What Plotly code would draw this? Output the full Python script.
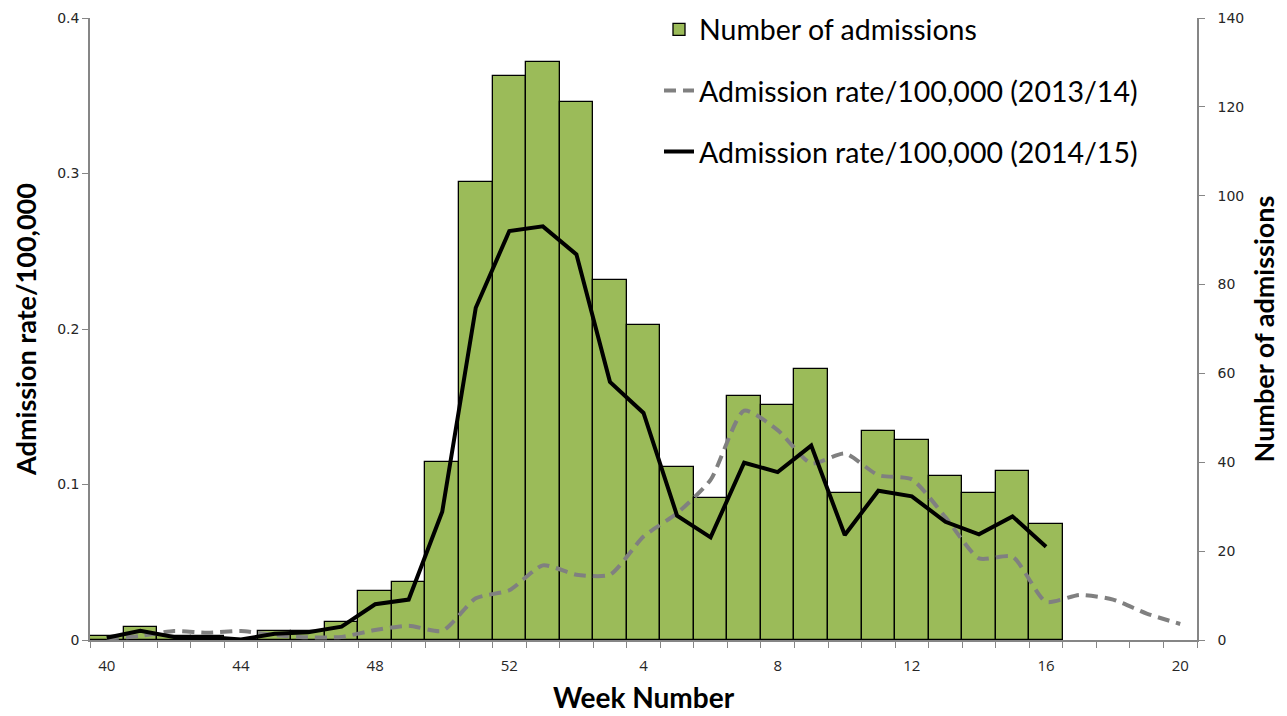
import plotly.graph_objects as go

weeks = [40, 41, 42, 43, 44, 45, 46, 47, 48, 49, 50, 51, 52,
         1, 2, 3, 4, 5, 6, 7, 8, 9, 10, 11, 12, 13, 14, 15, 16, 17, 18, 19, 20]

admissions = [1, 3, 1, 1, 0, 2, 2, 4, 11, 13, 40, 103, 127,
              130, 121, 81, 71, 39, 32, 55, 53, 61, 33, 47, 45, 37, 33, 38, 26,
              None, None, None, None]

rate_1314 = [0.001, 0.0026, 0.0058, 0.0047, 0.0058, 0.0032, 0.0017, 0.002, 0.0064, 0.0092, 0.0058, 0.0268, 0.032,
             0.048, 0.042, 0.042, 0.0665, 0.0815, 0.103, 0.1475, 0.135, 0.1136, 0.120, 0.106, 0.1033, 0.079,
             0.0525, 0.0536, 0.0246, 0.029, 0.026, 0.017, 0.0103]

rate_1415 = [0.0015, 0.006, 0.002, 0.002, 0.0003, 0.004, 0.005, 0.0086, 0.023, 0.026, 0.0825, 0.2137, 0.263,
             0.266, 0.248, 0.166, 0.146, 0.080, 0.066, 0.114, 0.108, 0.125, 0.0675, 0.096, 0.0924, 0.076,
             0.068, 0.0795, 0.060, None, None, None, None]

tick_labels = ["40", "44", "48", "52", "4", "8", "12", "16", "20"]

idx = list(range(len(weeks)))
tick_pos = [weeks.index(int(t)) if int(t) >= 40 else weeks.index(int(t), 13) for t in tick_labels]

fig = go.Figure()
fig.add_trace(go.Bar(
    x=idx, y=admissions, name="Number of admissions", yaxis="y",
    marker=dict(color="#9BBB59", line=dict(color="#000000", width=1.3)),
    width=1.0, legendgroup="a",
))
fig.add_trace(go.Scatter(
    x=idx, y=rate_1314, name="Admission rate/100,000 (2013/14)", yaxis="y2",
    mode="lines", line=dict(color="#808080", width=4, dash="12px,7px", shape="spline", smoothing=0.6),
    legendgroup="b",
))
fig.add_trace(go.Scatter(
    x=idx, y=rate_1415, name="Admission rate/100,000 (2014/15)", yaxis="y2",
    mode="lines", line=dict(color="#000000", width=4),
    legendgroup="c",
))

axis_col = "#868686"
tick_font = dict(family="DejaVu Sans", size=14, color="#262626")
title_font = dict(family="Lato", size=27, color="#000000")

fig.update_layout(
    width=1287, height=716,
    margin=dict(l=82, r=98, t=10, b=84, autoexpand=False),
    paper_bgcolor="white", plot_bgcolor="white",
    bargap=0,
    showlegend=True,
    legend=dict(x=0.514, y=1.022, xanchor="left", yanchor="top",
                font=dict(family="Lato", size=28.5, color="#000000"),
                bgcolor="rgba(0,0,0,0)", tracegroupgap=21, traceorder="grouped"),
    xaxis=dict(
        range=[-0.5, 32.5], tickmode="array", tickvals=tick_pos, ticktext=tick_labels,
        ticks="", showgrid=False, zeroline=False, automargin=False,
        showline=True, linecolor=axis_col, linewidth=1.5, ticklabelstandoff=11,
        tickfont=dict(family="Open Sans", size=15, color="#262626"),
        minor=dict(tick0=-0.5, dtick=1, ticks="outside", ticklen=6, tickcolor=axis_col, showgrid=False),
        title=dict(text="<b>Week Number</b>", font=dict(family="Lato", size=28, color="#000000"), standoff=15),
    ),
    yaxis=dict(
        range=[0, 140], dtick=20, side="right", showgrid=False, zeroline=False, automargin=False,
        showline=True, linecolor=axis_col, linewidth=1.5, ticklabelstandoff=10,
        ticks="outside", ticklen=6, tickcolor=axis_col, tickfont=tick_font,
        title=dict(text="<b>Number of admissions</b>", font=title_font, standoff=12),
    ),
    yaxis2=dict(
        range=[0, 0.4], dtick=0.1, side="left", overlaying="y", showgrid=False, zeroline=False, automargin=False,
        showline=True, linecolor=axis_col, linewidth=1.5,
        ticks="outside", ticklen=6, tickcolor=axis_col, tickfont=tick_font,
        tickvals=[0, 0.1, 0.2, 0.3, 0.4], ticktext=["0", "0.1", "0.2", "0.3", "0.4"],
        title=dict(text="<b>Admission rate/100,000</b>", font=title_font, standoff=13),
    ),
)

fig.write_html("out.html")
